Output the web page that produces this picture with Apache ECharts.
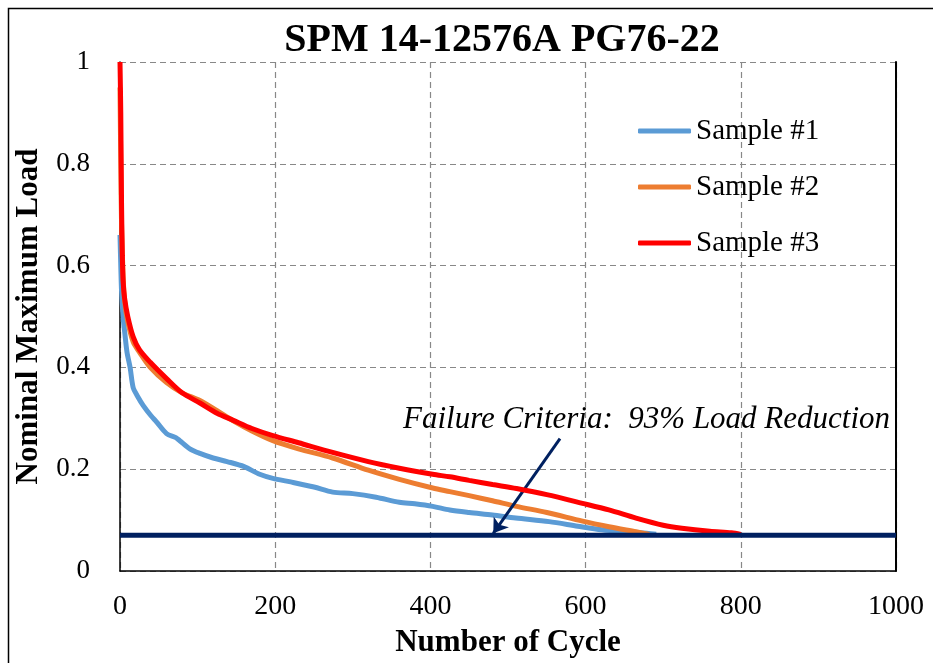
<!DOCTYPE html>
<html>
<head>
<meta charset="utf-8">
<style>html,body{margin:0;padding:0;background:#fff;}#c{width:933px;height:663px;}</style>
<script src="https://cdn.jsdelivr.net/npm/echarts@6/dist/echarts.min.js"></script>
</head>
<body>
<div id="c"></div>
<script>
var titleText = 'SPM 14-12576A PG76-22';
var xName = 'Number of Cycle';
var yName = 'Nominal Maximum Load';
var seriesNames = ['Sample #1', 'Sample #2', 'Sample #3'];
var seriesColors = ['#5B9BD5', '#ED7D31', '#FF0000'];

var s1Cycles = [0,1,2,4,6,9,13,17,22,30,40,47,60,72,77,90,103,120,138,160,180,197,220,250,274,300,330,360,380,403,425,450,480,510,553,590,621,650,670,691];
var s1Load = [0.66,0.60,0.55,0.50,0.47,0.43,0.40,0.36,0.345,0.325,0.305,0.293,0.27,0.262,0.256,0.24,0.231,0.222,0.215,0.205,0.19,0.182,0.175,0.165,0.155,0.152,0.145,0.135,0.132,0.127,0.12,0.115,0.11,0.104,0.097,0.088,0.081,0.077,0.075,0.072];

var s2Cycles = [0,1,2,4,6,10,17,25,39,60,80,103,125,146,170,197,230,274,320,360,403,425,450,480,511,550,596,630,665,682];
var s2Load = [0.95,0.80,0.68,0.58,0.53,0.49,0.45,0.43,0.40,0.37,0.35,0.335,0.315,0.295,0.275,0.256,0.24,0.222,0.198,0.18,0.163,0.156,0.148,0.138,0.127,0.115,0.098,0.087,0.077,0.072];

var s3Cycles = [0,1,2,3,4,6,10,17,25,39,60,80,103,125,146,170,197,230,274,320,360,403,425,450,480,511,550,596,630,665,700,724,760,788,800];
var s3Load = [1.0,0.90,0.72,0.62,0.57,0.535,0.50,0.46,0.435,0.41,0.378,0.35,0.33,0.31,0.296,0.28,0.266,0.252,0.233,0.215,0.202,0.19,0.185,0.178,0.17,0.162,0.15,0.133,0.12,0.104,0.09,0.084,0.078,0.075,0.072];

var failureLoad = 0.07;
var failureRange = [0, 1000];
var arrowFrom = [567, 0.26];
var arrowTo = [481, 0.074];
var annotationText = 'Failure Criteria:  93% Load Reduction';

function pairs(xs, ys) { return xs.map(function (x, i) { return [x, ys[i]]; }); }

var serif = '"Liberation Serif", "DejaVu Serif", serif';
var chart = echarts.init(document.getElementById('c'));
var dataSets = [pairs(s1Cycles, s1Load), pairs(s2Cycles, s2Load), pairs(s3Cycles, s3Load)];

var series = seriesNames.map(function (n, i) {
  return {
    name: n, type: 'line', data: dataSets[i], showSymbol: false, symbol: 'none',
    smooth: 0.3, z: 3 + i,
    lineStyle: { color: seriesColors[i], width: 5 },
    itemStyle: { color: seriesColors[i] }
  };
});
series.push({
  name: 'Failure', type: 'line', symbol: 'none', z: 10,
  data: [[failureRange[0], failureLoad], [failureRange[1], failureLoad]],
  lineStyle: { color: '#002060', width: 5 },
  markLine: {
    silent: true, symbol: ['none', 'arrow'], symbolSize: 14,
    lineStyle: { color: '#002060', width: 3, type: 'solid' },
    label: { show: false },
    data: [[{ coord: arrowFrom }, { coord: arrowTo }]]
  }
});

chart.setOption({
  animation: false,
  backgroundColor: '#fff',
  title: {
    text: titleText, left: 497, top: 16, textAlign: 'center',
    textStyle: { fontFamily: serif, fontWeight: 'bold', fontSize: 40, color: '#000' }
  },
  legend: {
    data: seriesNames.map(function (n) { return { name: n, icon: 'roundRect' }; }),
    orient: 'vertical', left: 633, top: 111,
    itemWidth: 53, itemHeight: 5, itemGap: 26,
    textStyle: { fontFamily: serif, fontSize: 29, lineHeight: 30, color: '#000' }
  },
  grid: { left: 120, right: 37, top: 62, bottom: 90 },
  xAxis: {
    type: 'value', min: 0, max: 1000, interval: 200,
    name: xName, nameLocation: 'middle', nameGap: 56,
    nameTextStyle: { fontFamily: serif, fontWeight: 'bold', fontSize: 31, color: '#000' },
    axisLine: { show: true, onZero: false, lineStyle: { color: '#000', width: 1.5 } },
    axisTick: { show: false },
    axisLabel: { fontFamily: serif, fontSize: 28, color: '#000', margin: 22, formatter: function (v) { return String(v); } },
    splitLine: { show: true, lineStyle: { color: '#888', type: [6, 4], width: 1.2 } }
  },
  yAxis: [{
    type: 'value', min: 0, max: 1, interval: 0.2,
    name: yName, nameLocation: 'middle', nameGap: 76,
    nameTextStyle: { fontFamily: serif, fontWeight: 'bold', fontSize: 31, color: '#000' },
    axisLine: { show: true, lineStyle: { color: '#000', width: 1.5 } },
    axisTick: { show: false },
    axisLabel: { fontFamily: serif, fontSize: 27, color: '#000', margin: 30, formatter: function (v) { return String(v); } },
    splitLine: { show: true, lineStyle: { color: '#888', type: [6, 4], width: 1.2 } }
  }, {
    type: 'value', min: 0, max: 1, interval: 0.2, position: 'right',
    axisLine: { show: true, lineStyle: { color: '#000', width: 2 } },
    axisTick: { show: false }, axisLabel: { show: false }, splitLine: { show: false }
  }],
  graphic: [
    { type: 'rect', left: 6, top: 6, shape: { width: 960, height: 700 }, style: { fill: 'none', stroke: '#000', lineWidth: 1.5 }, silent: true },
    { type: 'text', left: 403, top: 404, style: { text: annotationText, font: 'italic 31px ' + serif, fill: '#000' }, silent: true }
  ],
  series: series
});
</script>
</body>
</html>
